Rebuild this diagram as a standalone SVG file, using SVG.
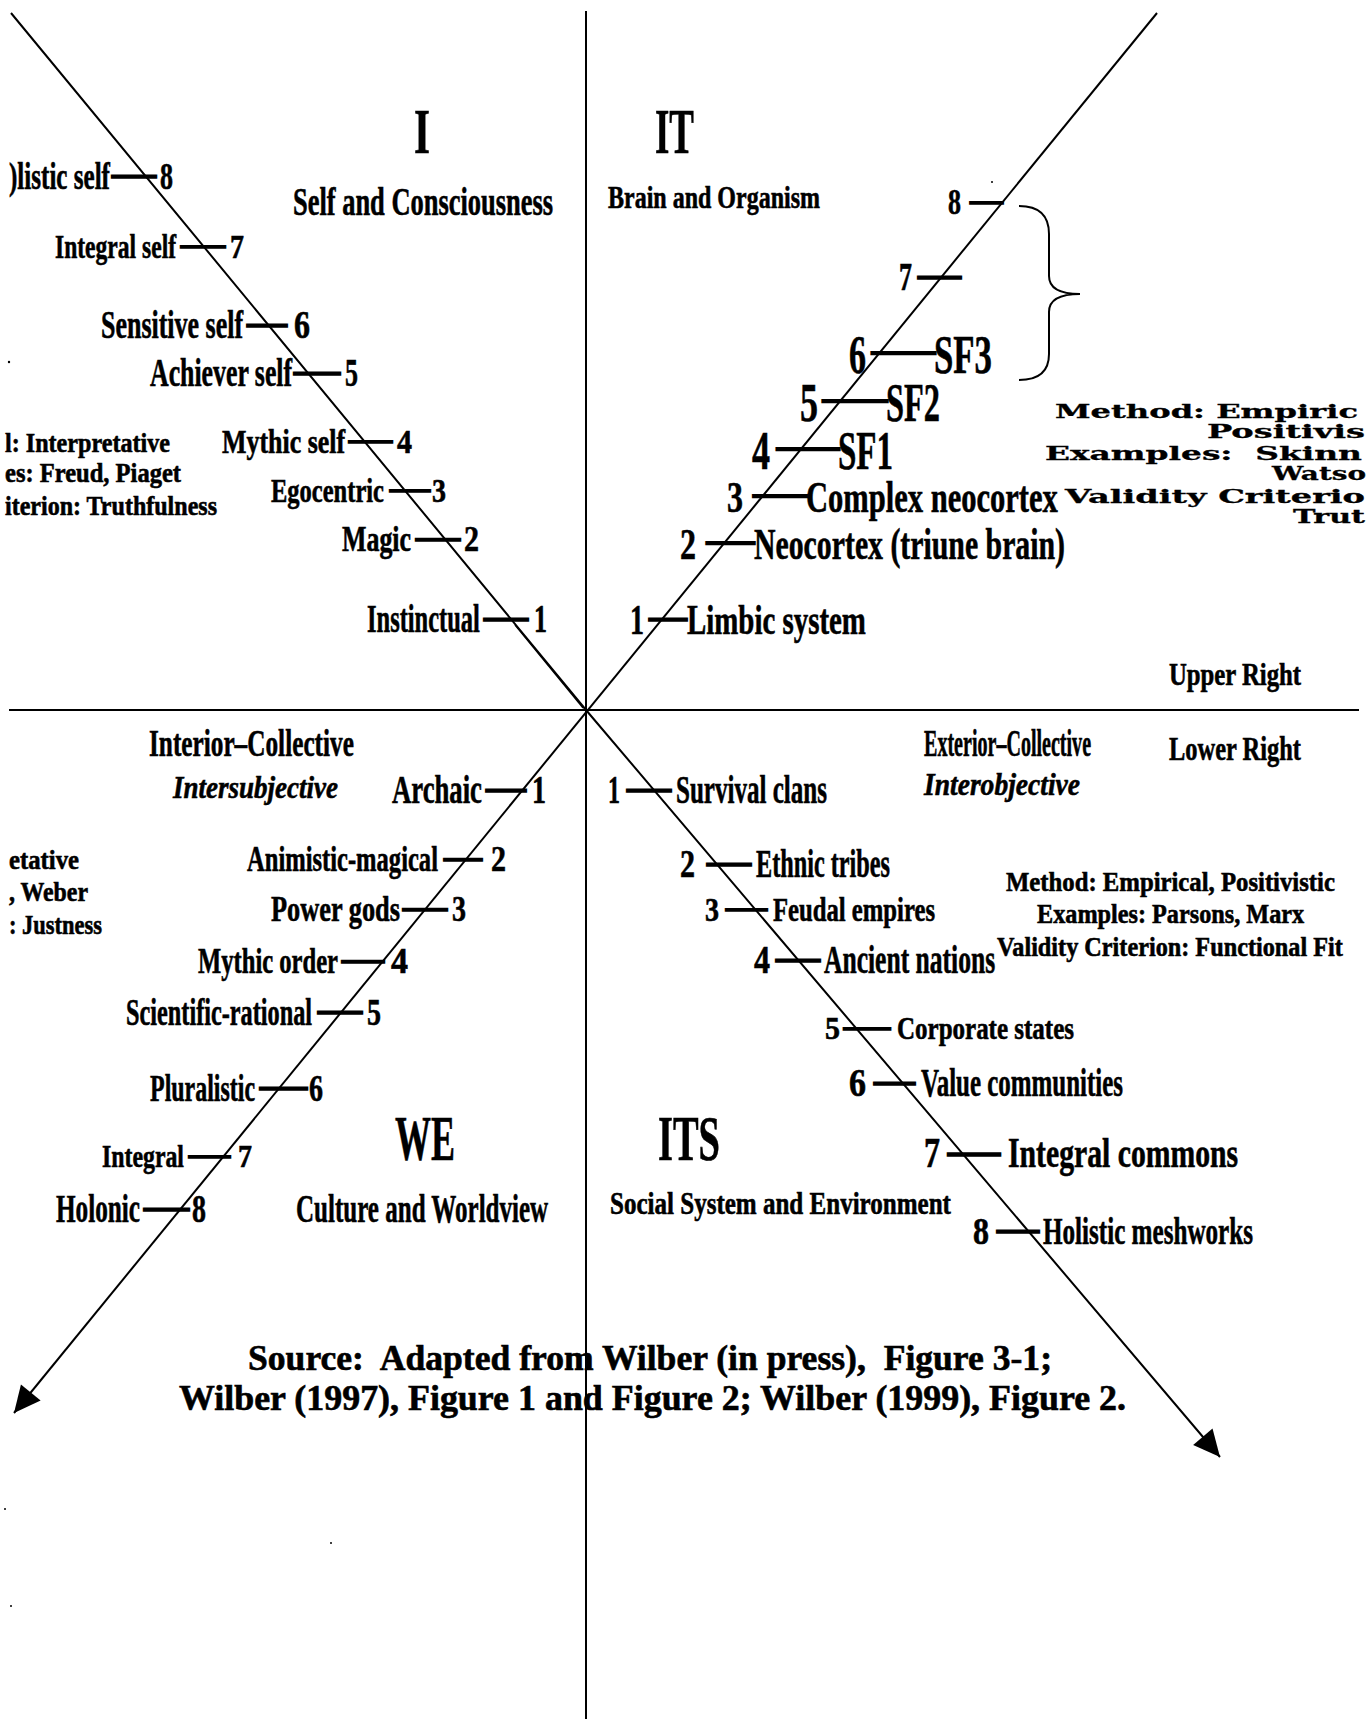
<svg xmlns="http://www.w3.org/2000/svg" width="1370" height="1719" viewBox="0 0 1370 1719">
<style>
.t{font-family:"Liberation Serif","Times New Roman",serif;font-weight:bold;fill:#000;stroke:#000;stroke-width:0.6;}
.i{font-style:italic;}
.d{stroke:#000;stroke-width:1.5;}
.d2{stroke:#000;stroke-width:2.6;}
.w{font-family:"DejaVu Serif",serif;font-weight:bold;fill:#000;stroke:#000;stroke-width:0.3;}
.ax{stroke:#000;stroke-width:2;fill:none;}
</style>
<defs>
<marker id="ah" markerUnits="userSpaceOnUse" markerWidth="30" markerHeight="30" viewBox="-24 -12 26 24" refX="0" refY="0" orient="auto">
<path d="M0,0 L-23,-11 L-23,11 Z" fill="#000"/>
</marker>
</defs>
<rect width="1370" height="1719" fill="#fff"/>

<g id="connectors">
<line class="ax" x1="586" y1="11" x2="586" y2="1719"/>
<line class="ax" x1="9" y1="710" x2="1359" y2="710"/>
<polyline class="ax" points="11,13 586,710 1220,1457" marker-end="url(#ah)"/>
<line class="ax" x1="1157" y1="13" x2="14" y2="1413" marker-end="url(#ah)"/>
<line stroke="#000" stroke-width="1.2" x1="515" y1="625" x2="583" y2="708"/>
<path class="ax" d="M1019,206 Q1049,206 1049,234 L1049,276 Q1049,294 1080,294 Q1049,294 1049,312 L1049,354 Q1049,380 1019,380"/>
</g>

<g id="noise" fill="#000">
<circle cx="9" cy="362" r="1.2"/>
<circle cx="992" cy="182" r="1"/>
<circle cx="5" cy="1509" r="1"/>
<circle cx="331" cy="1543" r="1"/>
<circle cx="11" cy="1606" r="1"/>
</g>

<g id="title-I"><text class="t" x="414" y="153" font-size="64" textLength="16" lengthAdjust="spacingAndGlyphs">I</text>
<text class="t" font-size="40" transform="translate(293,215) scale(0.661,1)" textLength="393.4" lengthAdjust="spacingAndGlyphs">Self and Consciousness</text></g>
<g id="title-IT"><text class="t" x="655" y="153" font-size="64" textLength="39" lengthAdjust="spacingAndGlyphs">IT</text>
<text class="t" font-size="32" transform="translate(608,208) scale(0.75,1)" textLength="282.7" lengthAdjust="spacingAndGlyphs">Brain and Organism</text></g>
<g id="title-WE"><text class="t" x="395" y="1160" font-size="64" textLength="60" lengthAdjust="spacingAndGlyphs">WE</text>
<text class="t" font-size="40" transform="translate(296,1222) scale(0.62,1)" textLength="406.7" lengthAdjust="spacingAndGlyphs">Culture and Worldview</text></g>
<g id="title-ITS"><text class="t" x="658" y="1160" font-size="64" textLength="62" lengthAdjust="spacingAndGlyphs">ITS</text>
<text class="t" font-size="32" transform="translate(610,1214) scale(0.781,1)" textLength="436.5" lengthAdjust="spacingAndGlyphs">Social System and Environment</text></g>

<!-- upper left -->
<g id="ul-8"><text class="t" font-size="38" transform="translate(9,189) scale(0.66,1)" textLength="153" lengthAdjust="spacingAndGlyphs">)listic self</text><text class="t d" x="112" y="186" font-size="38" textLength="44" lengthAdjust="spacingAndGlyphs">—</text><text class="t" x="160" y="189" font-size="38" textLength="13" lengthAdjust="spacingAndGlyphs">8</text></g>
<g id="ul-7"><text class="t" font-size="34" transform="translate(55,258) scale(0.693,1)" textLength="174.7" lengthAdjust="spacingAndGlyphs">Integral self</text><text class="t d" x="181" y="255" font-size="34" textLength="44" lengthAdjust="spacingAndGlyphs">—</text><text class="t" x="230" y="258" font-size="34" textLength="14" lengthAdjust="spacingAndGlyphs">7</text></g>
<g id="ul-6"><text class="t" font-size="40" transform="translate(101,338) scale(0.649,1)" textLength="218.9" lengthAdjust="spacingAndGlyphs">Sensitive self</text><text class="t d" x="247" y="335" font-size="40" textLength="40" lengthAdjust="spacingAndGlyphs">—</text><text class="t" x="294" y="338" font-size="40" textLength="16" lengthAdjust="spacingAndGlyphs">6</text></g>
<g id="ul-5"><text class="t" font-size="40" transform="translate(150,386) scale(0.643,1)" textLength="221" lengthAdjust="spacingAndGlyphs">Achiever self</text><text class="t d" x="294" y="383" font-size="40" textLength="46" lengthAdjust="spacingAndGlyphs">—</text><text class="t" x="345" y="386" font-size="40" textLength="13" lengthAdjust="spacingAndGlyphs">5</text></g>
<g id="ul-4"><text class="t" font-size="34" transform="translate(222,453) scale(0.762,1)" textLength="161.5" lengthAdjust="spacingAndGlyphs">Mythic self</text><text class="t d" x="349" y="450" font-size="34" textLength="43" lengthAdjust="spacingAndGlyphs">—</text><text class="t" x="397" y="453" font-size="34" textLength="15" lengthAdjust="spacingAndGlyphs">4</text></g>
<g id="ul-3"><text class="t" font-size="34" transform="translate(271,502) scale(0.721,1)" textLength="156.7" lengthAdjust="spacingAndGlyphs">Egocentric</text><text class="t d" x="390" y="499" font-size="34" textLength="40" lengthAdjust="spacingAndGlyphs">—</text><text class="t" x="432" y="502" font-size="34" textLength="14" lengthAdjust="spacingAndGlyphs">3</text></g>
<g id="ul-2"><text class="t" font-size="36" transform="translate(342,551) scale(0.719,1)" textLength="96" lengthAdjust="spacingAndGlyphs">Magic</text><text class="t d" x="416" y="548" font-size="36" textLength="44" lengthAdjust="spacingAndGlyphs">—</text><text class="t" x="464" y="551" font-size="36" textLength="15" lengthAdjust="spacingAndGlyphs">2</text></g>
<g id="ul-1"><text class="t" font-size="40" transform="translate(367,632) scale(0.612,1)" textLength="184.5" lengthAdjust="spacingAndGlyphs">Instinctual</text><text class="t d" x="484" y="629" font-size="40" textLength="44" lengthAdjust="spacingAndGlyphs">—</text><text class="t" x="534" y="632" font-size="40" textLength="13" lengthAdjust="spacingAndGlyphs">1</text></g>

<g id="ul-method"><text class="t" x="5" y="452" font-size="28" textLength="165" lengthAdjust="spacingAndGlyphs">l: Interpretative</text>
<text class="t" x="5" y="482" font-size="28" textLength="176" lengthAdjust="spacingAndGlyphs">es: Freud, Piaget</text>
<text class="t" x="5" y="515" font-size="28" textLength="212" lengthAdjust="spacingAndGlyphs">iterion: Truthfulness</text></g>

<!-- upper right -->
<g id="ur-8"><text class="t" font-size="36" transform="translate(948,214) scale(0.722,1)" textLength="18" lengthAdjust="spacingAndGlyphs">8</text><text class="t d" x="970" y="211" font-size="33" textLength="33" lengthAdjust="spacingAndGlyphs">—</text></g>
<g id="ur-7"><text class="t" font-size="40" transform="translate(899,290) scale(0.65,1)" textLength="20" lengthAdjust="spacingAndGlyphs">7</text><text class="t d" x="918" y="287" font-size="40" textLength="43" lengthAdjust="spacingAndGlyphs">—</text></g>
<g id="ur-6"><text class="t" font-size="54" transform="translate(849,373) scale(0.63,1)" textLength="27" lengthAdjust="spacingAndGlyphs">6</text><text class="t d2" x="874" y="359" font-size="24" textLength="59" lengthAdjust="spacingAndGlyphs">—</text><text class="t" font-size="54" transform="translate(934,373) scale(0.644,1)" textLength="90" lengthAdjust="spacingAndGlyphs">SF3</text></g>
<g id="ur-5"><text class="t" font-size="54" transform="translate(800,421) scale(0.667,1)" textLength="27" lengthAdjust="spacingAndGlyphs">5</text><text class="t d2" x="825" y="407" font-size="24" textLength="60" lengthAdjust="spacingAndGlyphs">—</text><text class="t" font-size="54" transform="translate(886,421) scale(0.6,1)" textLength="90" lengthAdjust="spacingAndGlyphs">SF2</text></g>
<g id="ur-4"><text class="t" font-size="54" transform="translate(752,469) scale(0.667,1)" textLength="27" lengthAdjust="spacingAndGlyphs">4</text><text class="t d2" x="779" y="455" font-size="24" textLength="58" lengthAdjust="spacingAndGlyphs">—</text><text class="t" font-size="54" transform="translate(838,469) scale(0.611,1)" textLength="90" lengthAdjust="spacingAndGlyphs">SF1</text></g>
<g id="ur-3"><text class="t" font-size="44" transform="translate(727,512) scale(0.727,1)" textLength="22" lengthAdjust="spacingAndGlyphs">3</text><text class="t d2" x="755" y="502" font-size="24" textLength="50" lengthAdjust="spacingAndGlyphs">—</text><text class="t" font-size="44" transform="translate(806,512) scale(0.694,1)" textLength="362.9" lengthAdjust="spacingAndGlyphs">Complex neocortex</text></g>
<g id="ur-2"><text class="t" font-size="44" transform="translate(680,559) scale(0.727,1)" textLength="22" lengthAdjust="spacingAndGlyphs">2</text><text class="t d2" x="708" y="549" font-size="24" textLength="45" lengthAdjust="spacingAndGlyphs">—</text><text class="t" font-size="44" transform="translate(754,559) scale(0.677,1)" textLength="459.4" lengthAdjust="spacingAndGlyphs">Neocortex (triune brain)</text></g>
<g id="ur-1"><text class="t" font-size="42" transform="translate(630,634) scale(0.667,1)" textLength="21" lengthAdjust="spacingAndGlyphs">1</text><text class="t d" x="649" y="629" font-size="38" textLength="38" lengthAdjust="spacingAndGlyphs">—</text><text class="t" font-size="42" transform="translate(687,634) scale(0.688,1)" textLength="260.1" lengthAdjust="spacingAndGlyphs">Limbic system</text></g>

<g id="ur-method">
<text class="w" x="1055" y="418" font-size="18" textLength="303" lengthAdjust="spacingAndGlyphs">Method: Empiric</text>
<text class="w" x="1207" y="438" font-size="18" textLength="158" lengthAdjust="spacingAndGlyphs">Positivis</text>
<text class="w" x="1045" y="460" font-size="18" textLength="317" lengthAdjust="spacingAndGlyphs">Examples:&#160; Skinn</text>
<text class="w" x="1272" y="480" font-size="18" textLength="94" lengthAdjust="spacingAndGlyphs">Watso</text>
<text class="w" x="1065" y="503" font-size="18" textLength="300" lengthAdjust="spacingAndGlyphs">Validity Criterio</text>
<text class="w" x="1293" y="523" font-size="18" textLength="72" lengthAdjust="spacingAndGlyphs">Trut</text>
</g>

<g id="quadrant-labels">
<text class="t" x="1169" y="685" font-size="32" textLength="132" lengthAdjust="spacingAndGlyphs">Upper Right</text>
<text class="t" x="1169" y="760" font-size="34" textLength="132" lengthAdjust="spacingAndGlyphs">Lower Right</text>
</g>
<g id="ll-header"><text class="t" font-size="38" transform="translate(149,756) scale(0.665,1)" textLength="308.1" lengthAdjust="spacingAndGlyphs">Interior–Collective</text>
<text class="t i" x="173" y="798" font-size="32" textLength="165" lengthAdjust="spacingAndGlyphs">Intersubjective</text></g>
<g id="lr-header"><text class="t" font-size="37" transform="translate(924,756) scale(0.542,1)" textLength="308.2" lengthAdjust="spacingAndGlyphs">Exterior–Collective</text>
<text class="t i" x="924" y="795" font-size="32" textLength="156" lengthAdjust="spacingAndGlyphs">Interobjective</text></g>

<!-- lower left -->
<g id="ll-1"><text class="t" font-size="40" transform="translate(392,803) scale(0.664,1)" textLength="135.5" lengthAdjust="spacingAndGlyphs">Archaic</text><text class="t d" x="486" y="800" font-size="40" textLength="40" lengthAdjust="spacingAndGlyphs">—</text><text class="t" x="532" y="803" font-size="40" textLength="14" lengthAdjust="spacingAndGlyphs">1</text></g>
<g id="ll-2"><text class="t" font-size="36" transform="translate(247,871) scale(0.682,1)" textLength="280" lengthAdjust="spacingAndGlyphs">Animistic-magical</text><text class="t d" x="444" y="868" font-size="36" textLength="38" lengthAdjust="spacingAndGlyphs">—</text><text class="t" x="491" y="871" font-size="36" textLength="15" lengthAdjust="spacingAndGlyphs">2</text></g>
<g id="ll-3"><text class="t" font-size="36" transform="translate(271,921) scale(0.729,1)" textLength="177" lengthAdjust="spacingAndGlyphs">Power gods</text><text class="t d" x="403" y="918" font-size="36" textLength="44" lengthAdjust="spacingAndGlyphs">—</text><text class="t" x="452" y="921" font-size="36" textLength="14" lengthAdjust="spacingAndGlyphs">3</text></g>
<g id="ll-4"><text class="t" font-size="36" transform="translate(198,973) scale(0.683,1)" textLength="205" lengthAdjust="spacingAndGlyphs">Mythic order</text><text class="t d" x="342" y="970" font-size="36" textLength="42" lengthAdjust="spacingAndGlyphs">—</text><text class="t" x="391" y="973" font-size="36" textLength="17" lengthAdjust="spacingAndGlyphs">4</text></g>
<g id="ll-5"><text class="t" font-size="38" transform="translate(126,1025) scale(0.653,1)" textLength="285" lengthAdjust="spacingAndGlyphs">Scientific-rational</text><text class="t d" x="318" y="1022" font-size="38" textLength="44" lengthAdjust="spacingAndGlyphs">—</text><text class="t" x="367" y="1025" font-size="38" textLength="14" lengthAdjust="spacingAndGlyphs">5</text></g>
<g id="ll-6"><text class="t" font-size="38" transform="translate(150,1101) scale(0.63,1)" textLength="166.8" lengthAdjust="spacingAndGlyphs">Pluralistic</text><text class="t d" x="260" y="1098" font-size="38" textLength="47" lengthAdjust="spacingAndGlyphs">—</text><text class="t" x="309" y="1101" font-size="38" textLength="14" lengthAdjust="spacingAndGlyphs">6</text></g>
<g id="ll-7"><text class="t" font-size="32" transform="translate(102,1167) scale(0.744,1)" textLength="110.2" lengthAdjust="spacingAndGlyphs">Integral</text><text class="t d" x="189" y="1164" font-size="32" textLength="41" lengthAdjust="spacingAndGlyphs">—</text><text class="t" x="238" y="1167" font-size="32" textLength="14" lengthAdjust="spacingAndGlyphs">7</text></g>
<g id="ll-8"><text class="t" font-size="40" transform="translate(56,1222) scale(0.63,1)" textLength="133.4" lengthAdjust="spacingAndGlyphs">Holonic</text><text class="t d" x="144" y="1219" font-size="40" textLength="45" lengthAdjust="spacingAndGlyphs">—</text><text class="t" x="192" y="1222" font-size="40" textLength="14" lengthAdjust="spacingAndGlyphs">8</text></g>

<g id="ll-method"><text class="t" x="9" y="869" font-size="28" textLength="70" lengthAdjust="spacingAndGlyphs">etative</text>
<text class="t" x="9" y="901" font-size="28" textLength="79" lengthAdjust="spacingAndGlyphs">, Weber</text>
<text class="t" x="9" y="934" font-size="28" textLength="93" lengthAdjust="spacingAndGlyphs">: Justness</text></g>

<!-- lower right -->
<g id="lr-1"><text class="t" font-size="40" transform="translate(608,803) scale(0.6,1)" textLength="20" lengthAdjust="spacingAndGlyphs">1</text><text class="t d" x="627" y="800" font-size="40" textLength="44" lengthAdjust="spacingAndGlyphs">—</text><text class="t" font-size="40" transform="translate(676,803) scale(0.626,1)" textLength="241.2" lengthAdjust="spacingAndGlyphs">Survival clans</text></g>
<g id="lr-2"><text class="t" font-size="40" transform="translate(680,877) scale(0.75,1)" textLength="20" lengthAdjust="spacingAndGlyphs">2</text><text class="t d" x="707" y="874" font-size="40" textLength="44" lengthAdjust="spacingAndGlyphs">—</text><text class="t" font-size="40" transform="translate(756,877) scale(0.606,1)" textLength="221.1" lengthAdjust="spacingAndGlyphs">Ethnic tribes</text></g>
<g id="lr-3"><text class="t" font-size="34" transform="translate(705,921) scale(0.824,1)" textLength="17" lengthAdjust="spacingAndGlyphs">3</text><text class="t d" x="726" y="918" font-size="34" textLength="41" lengthAdjust="spacingAndGlyphs">—</text><text class="t" font-size="34" transform="translate(773,921) scale(0.724,1)" textLength="223.8" lengthAdjust="spacingAndGlyphs">Feudal empires</text></g>
<g id="lr-4"><text class="t" font-size="40" transform="translate(754,973) scale(0.8,1)" textLength="20" lengthAdjust="spacingAndGlyphs">4</text><text class="t d" x="776" y="970" font-size="40" textLength="44" lengthAdjust="spacingAndGlyphs">—</text><text class="t" font-size="40" transform="translate(824,973) scale(0.639,1)" textLength="267.8" lengthAdjust="spacingAndGlyphs">Ancient nations</text></g>
<g id="lr-5"><text class="t" font-size="32" transform="translate(825,1039) scale(0.9375,1)" textLength="16" lengthAdjust="spacingAndGlyphs">5</text><text class="t d" x="844" y="1036" font-size="32" textLength="46" lengthAdjust="spacingAndGlyphs">—</text><text class="t" font-size="32" transform="translate(897,1039) scale(0.781,1)" textLength="226.6" lengthAdjust="spacingAndGlyphs">Corporate states</text></g>
<g id="lr-6"><text class="t" font-size="40" transform="translate(849,1096) scale(0.85,1)" textLength="20" lengthAdjust="spacingAndGlyphs">6</text><text class="t d" x="874" y="1093" font-size="40" textLength="41" lengthAdjust="spacingAndGlyphs">—</text><text class="t" font-size="40" transform="translate(921,1096) scale(0.616,1)" textLength="327.8" lengthAdjust="spacingAndGlyphs">Value communities</text></g>
<g id="lr-7"><text class="t" font-size="42" transform="translate(924,1167) scale(0.762,1)" textLength="21" lengthAdjust="spacingAndGlyphs">7</text><text class="t d" x="948" y="1164" font-size="42" textLength="52" lengthAdjust="spacingAndGlyphs">—</text><text class="t" font-size="42" transform="translate(1008,1167) scale(0.707,1)" textLength="325.5" lengthAdjust="spacingAndGlyphs">Integral commons</text></g>
<g id="lr-8"><text class="t" font-size="38" transform="translate(973,1244) scale(0.842,1)" textLength="19" lengthAdjust="spacingAndGlyphs">8</text><text class="t d" x="997" y="1241" font-size="38" textLength="42" lengthAdjust="spacingAndGlyphs">—</text><text class="t" font-size="38" transform="translate(1043,1244) scale(0.661,1)" textLength="317.7" lengthAdjust="spacingAndGlyphs">Holistic meshworks</text></g>

<g id="lr-method">
<text class="t" font-size="28" transform="translate(1006,891) scale(0.883,1)" textLength="372.5" lengthAdjust="spacingAndGlyphs">Method: Empirical, Positivistic</text>
<text class="t" font-size="28" transform="translate(1037,923) scale(0.865,1)" textLength="308.8" lengthAdjust="spacingAndGlyphs">Examples: Parsons, Marx</text>
<text class="t" font-size="28" transform="translate(997,956) scale(0.86,1)" textLength="402.1" lengthAdjust="spacingAndGlyphs">Validity Criterion: Functional Fit</text>
</g>

<g id="source">
<text class="t" x="248" y="1370" font-size="35" textLength="804" lengthAdjust="spacingAndGlyphs">Source:&#160; Adapted from Wilber (in press),&#160; Figure 3-1;</text>
<text class="t" x="179" y="1410" font-size="35" textLength="947" lengthAdjust="spacingAndGlyphs">Wilber (1997), Figure 1 and Figure 2; Wilber (1999), Figure 2.</text>
</g>
</svg>
